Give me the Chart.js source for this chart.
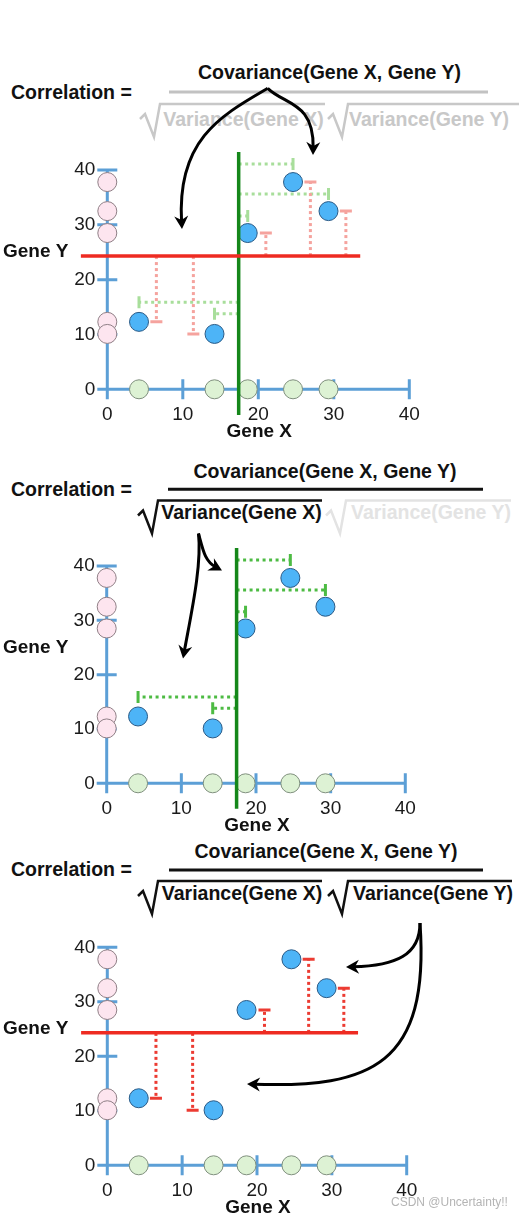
<!DOCTYPE html>
<html>
<head>
<meta charset="utf-8">
<script src="https://cdn.jsdelivr.net/npm/chart.js@4.4.1/dist/chart.umd.min.js"></script>
<style>
  html, body { margin: 0; padding: 0; background: #fff; }
  #page { position: relative; width: 521px; height: 1218px; overflow: hidden;
          font-family: "Liberation Sans", Arial, sans-serif; }
  .t { position: absolute; white-space: nowrap; font-weight: bold; font-size: 19.5px;
       line-height: 1; color: #111; transform: translate(-50%, -50%); z-index: 1; }
  .t.left { transform: translate(0, -50%); }
  #lines { position: absolute; left: 0; top: 0; z-index: 1; }
  .panel { position: absolute; left: 0; width: 521px; z-index: 2; }
  #wm { position: absolute; z-index: 3; font-size: 12px; color: #b4b4b4; white-space: nowrap;
        left: 391px; top: 1195px; }
</style>
</head>
<body>
<div id="page">
  <svg id="lines" width="521" height="1218"></svg>
  <div class="panel" style="top:0px"><canvas id="c1" width="521" height="440"></canvas></div>
  <div class="panel" style="top:440px"><canvas id="c2" width="521" height="400"></canvas></div>
  <div class="panel" style="top:840px"><canvas id="c3" width="521" height="378"></canvas></div>
  <div id="wm">CSDN @Uncertainty!!</div>
</div>
<script>
// valeurs
const tickValues = [0, 10, 20, 30, 40];
const tickLabels = ['0', '10', '20', '30', '40'];
const geneX = [4.2, 14.2, 18.6, 24.6, 29.3];
const geneY = [12.3, 10.1, 28.5, 37.8, 32.5];
const meanX = 17.4;
const meanY = 24.3;
const meanYLineX = [-3.5, 33.5];   // étendue de la ligne rouge
const meanXLineY = [-4.7, 43.3];   // étendue de la ligne verte
const xDevLevels = [15.9, 13.8, 31.6, 41.1, 35.6];   // hauteur des pointillés verts
const yDevPositions = [6.5, 11.4, 21.0, 26.9, 31.6]; // position des pointillés rouges

const X_MIN = -10, X_MAX = 45, Y_MIN = -8, Y_MAX = 48;
const AXIS_BLUE = '#5c9fd6';
const FONT = '"Liberation Sans", Arial, sans-serif';

// mise en page des trois panneaux
const panels = [
  { id: 'c1', h: 440, x0: 107.3, x40: 409.3, y0: 389.3, y40: 170,
    redLine: true, greenLine: true, xDevColor: '#a8de9b', yDevColor: '#f5a39e',
    arrows: [
      [[267.7, 88.3], [222, 115], [177, 145], [182, 229]],
      [[267.7, 88.3], [285, 105], [314, 108], [313, 155]]
    ] },
  { id: 'c2', h: 400, x0: 106.7, x40: 405.3, y0: 343.3, y40: 126,
    redLine: false, greenLine: true, xDevColor: '#4dbb43', yDevColor: null,
    arrows: [
      [[198.5, 93.5], [202, 125], [190, 180], [183, 218.5]],
      [[198.5, 93.5], [203, 110], [210, 124], [222, 130.5]]
    ] },
  { id: 'c3', h: 378, x0: 107.3, x40: 406.7, y0: 325.3, y40: 107.3,
    redLine: true, greenLine: false, xDevColor: null, yDevColor: '#ec3b32',
    arrows: [
      [[420, 83], [420, 115], [390, 126], [346, 127]],
      [[420, 83], [430, 225], [365, 248], [247, 244]]
    ] }
];

// formules (coordonnées de la page)
const formulas = [
  { corrY: 92.5, numX: 329.5, numY: 73.3, numColor: '#111', barY: 92, barX: [169, 488], barColor: '#c2c2c2',
    lineY: 104, denY: 120,
    den: [ { rx: 140, end: 325, tx: 243.5, color: '#c8c8c8', text: 'Variance(Gene X)' },
           { rx: 328, end: 519, tx: 429, color: '#c8c8c8', text: 'Variance(Gene Y)' } ] },
  { corrY: 490, numX: 325, numY: 471.7, numColor: '#111', barY: 489.3, barX: [168, 483], barColor: '#111',
    lineY: 500.5, denY: 513.3,
    den: [ { rx: 138, end: 322, tx: 241.5, color: '#111', text: 'Variance(Gene X)' },
           { rx: 326, end: 511, tx: 431, color: '#e3e3e3', text: 'Variance(Gene Y)' } ] },
  { corrY: 870, numX: 326, numY: 851.7, numColor: '#111', barY: 870, barX: [169, 483], barColor: '#111',
    lineY: 881, denY: 894,
    den: [ { rx: 138, end: 322, tx: 242, color: '#111', text: 'Variance(Gene X)' },
           { rx: 328, end: 512, tx: 433, color: '#111', text: 'Variance(Gene Y)' } ] }
];

const page = document.getElementById('page');
const svg = document.getElementById('lines');
let svgHtml = '';

function addText(txt, x, y, color, left) {
  const d = document.createElement('div');
  d.className = left ? 't left' : 't';
  d.style.left = x + 'px';
  d.style.top = y + 'px';
  d.style.color = color;
  d.textContent = txt;
  page.appendChild(d);
}

formulas.forEach(f => {
  addText('Correlation =', 11, f.corrY, '#111', true);
  addText('Covariance(Gene X, Gene Y)', f.numX, f.numY, f.numColor);
  svgHtml += `<line x1="${f.barX[0]}" y1="${f.barY}" x2="${f.barX[1]}" y2="${f.barY}" stroke="${f.barColor}" stroke-width="3"/>`;
  f.den.forEach(d => {
    addText(d.text, d.tx, f.denY, d.color);
    const oy = f.lineY;
    const pts = `${d.rx},${oy + 15} ${d.rx + 5},${oy + 10} ${d.rx + 14},${oy + 33} ${d.rx + 20},${oy} ${d.end},${oy}`;
    svgHtml += `<polyline points="${pts}" fill="none" stroke="${d.color}" stroke-width="2.5" stroke-linejoin="miter"/>`;
  });
});
svg.innerHTML = svgHtml;

function paddingFor(p) {
  const ux = (p.x40 - p.x0) / 40;
  const uy = (p.y0 - p.y40) / 40;
  return {
    left: p.x0 + X_MIN * ux,
    right: 521 - (p.x0 + X_MAX * ux),
    top: p.y0 - Y_MAX * uy,
    bottom: p.h - (p.y0 - Y_MIN * uy)
  };
}

// axes bleus, graduations et titres
const axisPlugin = {
  id: 'geneAxes',
  beforeDatasetsDraw(chart) {
    const { ctx, scales: { x, y } } = chart;
    const x0 = x.getPixelForValue(0), y0 = y.getPixelForValue(0);
    ctx.save();
    ctx.strokeStyle = AXIS_BLUE;
    ctx.lineWidth = 3;
    ctx.beginPath();
    ctx.moveTo(x0 - 10, y0); ctx.lineTo(x.getPixelForValue(40), y0);
    ctx.moveTo(x0, y0 + 10); ctx.lineTo(x0, y.getPixelForValue(40));
    tickValues.forEach(v => {
      if (v === 0) return;
      const px = x.getPixelForValue(v);
      ctx.moveTo(px, y0 - 10); ctx.lineTo(px, y0 + 10);
      const py = y.getPixelForValue(v);
      ctx.moveTo(x0 - 10, py); ctx.lineTo(x0 + 10, py);
    });
    ctx.stroke();

    ctx.fillStyle = '#1a1a1a';
    ctx.font = '19px ' + FONT;
    ctx.textBaseline = 'middle';
    ctx.textAlign = 'center';
    tickValues.forEach((v, i) => ctx.fillText(tickLabels[i], x.getPixelForValue(v), y0 + 25));
    ctx.textAlign = 'right';
    tickValues.forEach((v, i) => ctx.fillText(tickLabels[i], x0 - 12, y.getPixelForValue(v)));

    ctx.font = 'bold 19px ' + FONT;
    ctx.fillStyle = '#111';
    ctx.textAlign = 'center';
    ctx.fillText('Gene X', x.getPixelForValue(20) + 1, y0 + 42);
    ctx.textAlign = 'left';
    ctx.fillText('Gene Y', 3, y.getPixelForValue(25));
    ctx.restore();
  }
};

function drawArrow(ctx, pts) {
  const [p0, p1, p2, p3] = pts;
  let dx = p3[0] - p2[0], dy = p3[1] - p2[1];
  const len = Math.hypot(dx, dy);
  dx /= len; dy /= len;
  ctx.beginPath();
  ctx.moveTo(p0[0], p0[1]);
  ctx.bezierCurveTo(p1[0], p1[1], p2[0] - dx * 6, p2[1] - dy * 6, p3[0] - dx * 7, p3[1] - dy * 7);
  ctx.stroke();
  const nx = -dy, ny = dx;
  ctx.beginPath();
  ctx.moveTo(p3[0], p3[1]);
  ctx.lineTo(p3[0] - dx * 13 + nx * 7, p3[1] - dy * 13 + ny * 7);
  ctx.lineTo(p3[0] - dx * 9, p3[1] - dy * 9);
  ctx.lineTo(p3[0] - dx * 13 - nx * 7, p3[1] - dy * 13 - ny * 7);
  ctx.closePath();
  ctx.fill();
}

function buildChart(p) {
  const datasets = [];

  if (p.redLine) {
    datasets.push({ data: meanYLineX.map(x => ({ x, y: meanY })), showLine: true,
      borderColor: '#ee2b22', borderWidth: 3.5, pointRadius: 0, order: 0 });
  }
  if (p.greenLine) {
    datasets.push({ data: meanXLineY.map(y => ({ x: meanX, y })), showLine: true,
      borderColor: '#15871a', borderWidth: 3.5, pointRadius: 0, order: 0 });
  }

  datasets.push({ data: geneX.map((x, i) => ({ x, y: geneY[i] })),
    backgroundColor: '#4db4f7', borderColor: '#2a5a86', borderWidth: 1, pointRadius: 9.5, order: 1 });

  if (p.yDevColor) {
    geneY.forEach((v, i) => {
      datasets.push({ data: [{ x: yDevPositions[i], y: meanY }, { x: yDevPositions[i], y: v }],
        showLine: true, borderColor: p.yDevColor, borderWidth: 3, borderDash: [3, 3],
        pointStyle: 'line', pointRadius: [0, 6], pointRotation: 0,
        pointBorderColor: p.yDevColor, pointBorderWidth: 3, order: 2 });
    });
  }
  if (p.xDevColor) {
    geneX.forEach((v, i) => {
      datasets.push({ data: [{ x: meanX, y: xDevLevels[i] }, { x: v, y: xDevLevels[i] }],
        showLine: true, borderColor: p.xDevColor, borderWidth: 3, borderDash: [3, 3.5],
        pointStyle: 'line', pointRadius: [0, 6], pointRotation: 90,
        pointBorderColor: p.xDevColor, pointBorderWidth: 3, order: 2 });
    });
  }

  datasets.push({ data: geneY.map(y => ({ x: 0, y })),
    backgroundColor: '#fde5ef', borderColor: '#8f7f86', borderWidth: 1, pointRadius: 9.5, order: 3 });
  datasets.push({ data: geneX.map(x => ({ x, y: 0 })),
    backgroundColor: '#ddf2d4', borderColor: '#7f8f7d', borderWidth: 1, pointRadius: 9.5, order: 3 });

  const arrowPlugin = {
    id: 'arrows',
    afterDatasetsDraw(chart) {
      const ctx = chart.ctx;
      ctx.save();
      ctx.strokeStyle = '#000';
      ctx.fillStyle = '#000';
      ctx.lineWidth = 3;
      p.arrows.forEach(a => drawArrow(ctx, a));
      ctx.restore();
    }
  };

  new Chart(document.getElementById(p.id), {
    type: 'scatter',
    data: { datasets },
    options: {
      responsive: false,
      animation: false,
      events: [],
      layout: { padding: paddingFor(p), autoPadding: false },
      plugins: { legend: { display: false }, tooltip: { enabled: false } },
      scales: {
        x: { type: 'linear', min: X_MIN, max: X_MAX, display: false },
        y: { type: 'linear', min: Y_MIN, max: Y_MAX, display: false }
      }
    },
    plugins: [axisPlugin, arrowPlugin]
  });
}

panels.forEach(buildChart);
</script>
</body>
</html>
